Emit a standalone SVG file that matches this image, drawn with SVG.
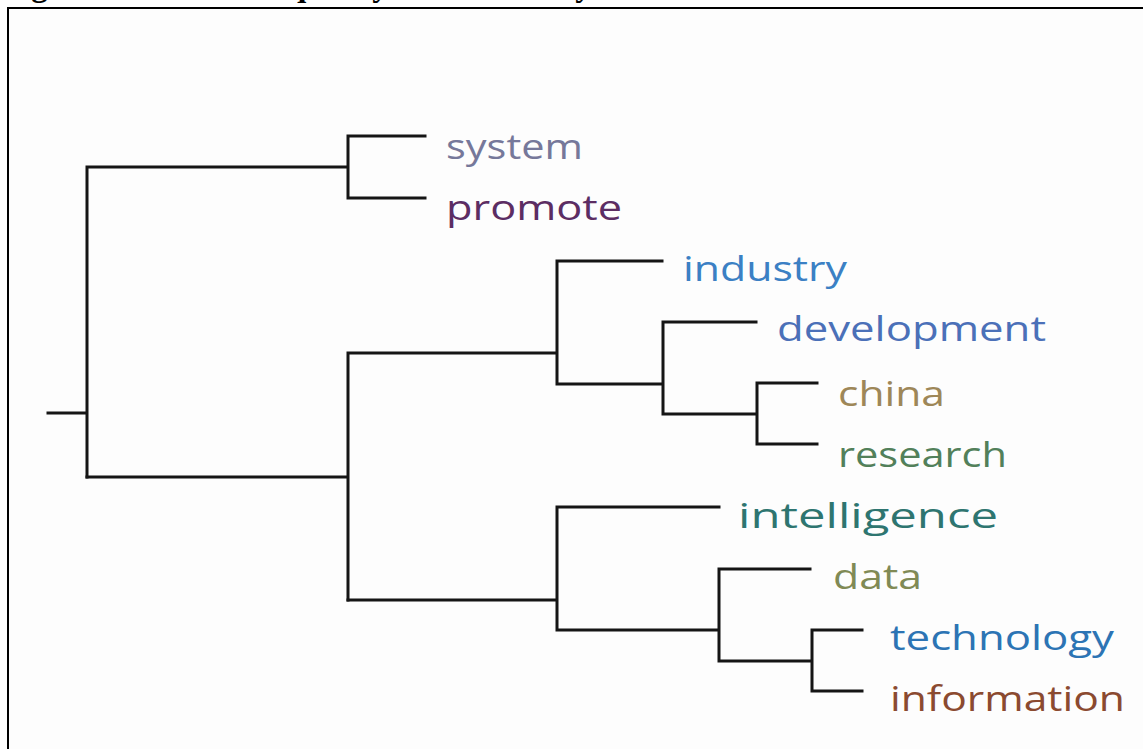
<svg xmlns="http://www.w3.org/2000/svg" width="1143" height="749" viewBox="0 0 1143 749">
<style>
.ln{stroke:#151515;stroke-width:3;fill:none;stroke-linecap:square}
.lb{font-family:"Open Sans","Noto Sans",sans-serif;font-size:35px}
.ttl{font-family:"Liberation Serif",serif;font-weight:bold;font-size:33px;fill:#000}
</style>
<rect x="0" y="0" width="1143" height="749" fill="#ffffff"/>
<text class="ttl" x="2" y="-4">Figure 11. Word Frequency Cluster Analysis of National Policies C</text>
<rect x="8" y="8" width="1160" height="760" fill="#fdfdfd" stroke="#000" stroke-width="2"/>
<g id="connectors">
<path class="ln" d="M48,413H87M87,167V477M87,167H348M348,136V198M348,136H425M348,198H425"/>
<path class="ln" d="M87,477H348M348,353V600M348,353H557M557,261V384M557,261H662M557,384H663M663,322V414M663,322H756M663,414H757M757,383V444M757,383H817M757,444H817"/>
<path class="ln" d="M348,600H557M557,507V630M557,507H719M557,630H719M719,569V661M719,569H810M719,661H812M812,630V691M812,630H862M812,691H862"/>
</g>
<g id="n-system"><text class="lb" x="446" y="159" fill="#76789a" textLength="137" lengthAdjust="spacingAndGlyphs">system</text></g>
<g id="n-promote"><text class="lb" x="446" y="220" fill="#5c2d63" textLength="176" lengthAdjust="spacingAndGlyphs">promote</text></g>
<g id="n-industry"><text class="lb" x="683" y="281" fill="#3b80c4" textLength="164" lengthAdjust="spacingAndGlyphs">industry</text></g>
<g id="n-development"><text class="lb" x="777" y="341" fill="#4b70b8" textLength="269" lengthAdjust="spacingAndGlyphs">development</text></g>
<g id="n-china"><text class="lb" x="838" y="406" fill="#9e8758" textLength="107" lengthAdjust="spacingAndGlyphs">china</text></g>
<g id="n-research"><text class="lb" x="838" y="467" fill="#52805a" textLength="169" lengthAdjust="spacingAndGlyphs">research</text></g>
<g id="n-intelligence"><text class="lb" x="738" y="528" fill="#2e7570" textLength="260" lengthAdjust="spacingAndGlyphs">intelligence</text></g>
<g id="n-data"><text class="lb" x="833" y="589" fill="#808a55" textLength="89" lengthAdjust="spacingAndGlyphs">data</text></g>
<g id="n-technology"><text class="lb" x="890" y="650" fill="#2c74b4" textLength="224" lengthAdjust="spacingAndGlyphs">technology</text></g>
<g id="n-information"><text class="lb" x="890" y="711" fill="#8b4a30" textLength="235" lengthAdjust="spacingAndGlyphs">information</text></g>
</svg>
